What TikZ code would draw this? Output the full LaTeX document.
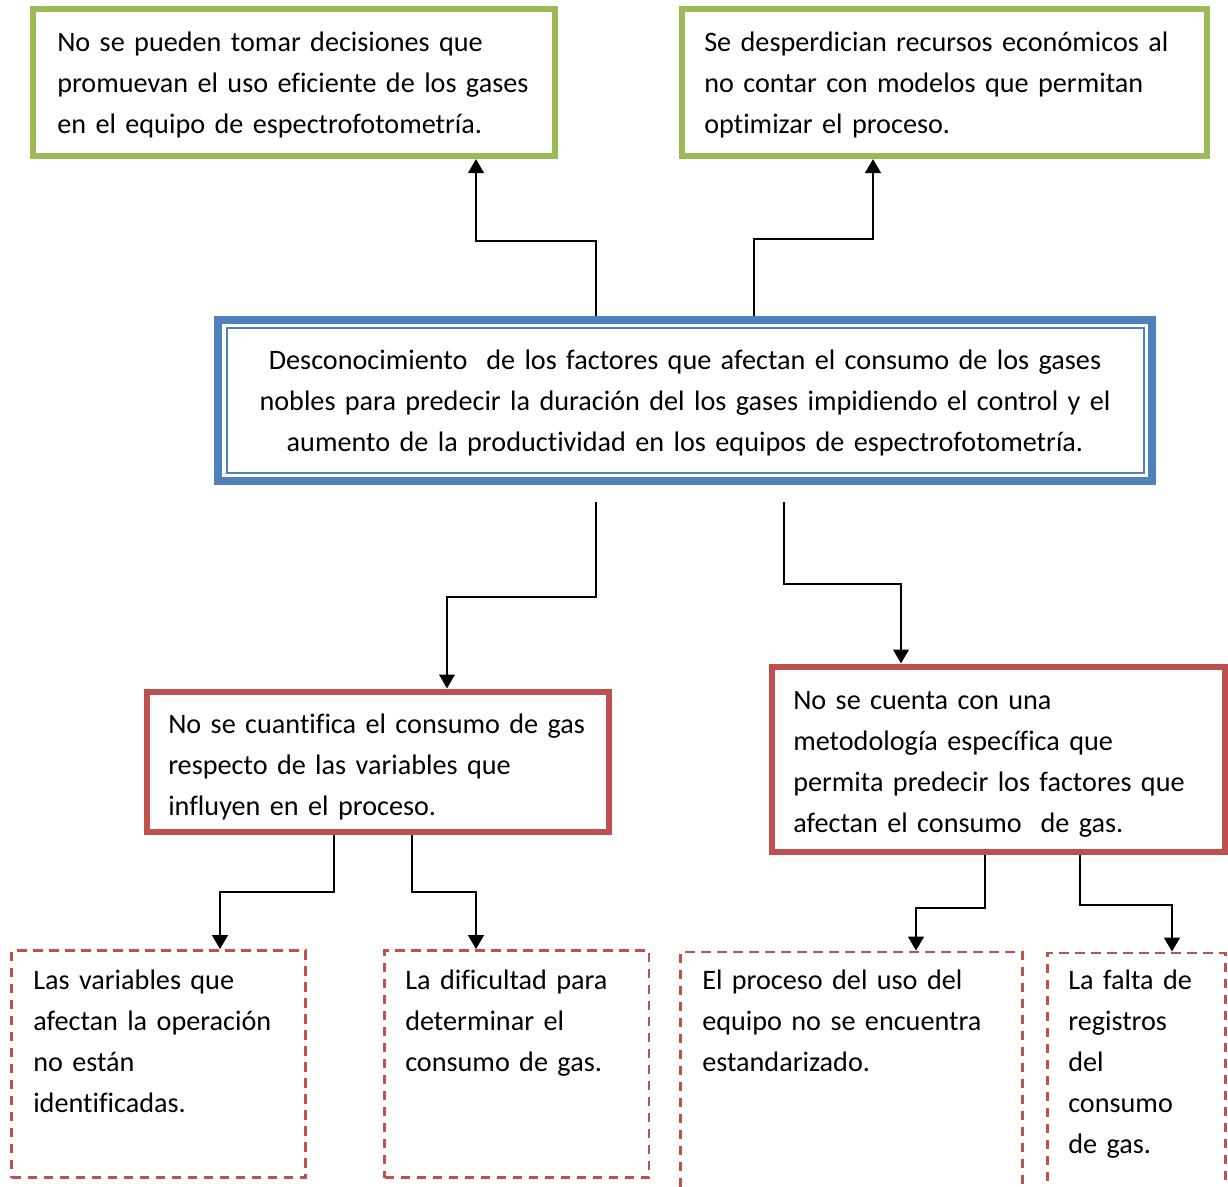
\documentclass[tikz,border=0pt]{standalone}
\usepackage{fontspec}
\setmainfont{Carlito}[Ligatures=NoCommon]
\usetikzlibrary{arrows.meta,calc}
\definecolor{gbox}{HTML}{9BBB59}
\definecolor{bbox}{HTML}{4F81BD}
\definecolor{rbox}{HTML}{C0504D}
\newcommand\dfont{\fontsize{21.15}{30.75}\selectfont}
\newcommand\mkbox[6]{\node[#1, minimum width={(#5-#3)*0.75pt}, minimum height={(#6-#4)*0.75pt}] (#2) at ({(#3+#5)/2},{(#4+#6)/2}) {};}
\begin{document}
\begin{tikzpicture}[x=0.75pt,y=-0.75pt,
 boxbase/.style={rectangle, inner sep=0pt, fill=white},
 greenbox/.style={boxbase, draw=gbox, line width=4.5pt},
 redbox/.style={boxbase, draw=rbox, line width=4.5pt},
 bluebox/.style={boxbase, draw=bbox, line width=6.5pt},
 dashbox/.style={boxbase, draw=rbox, line width=2pt, dash pattern=on 7pt off 5pt},
 txt/.style={anchor=north west, inner sep=0pt, align=left, text width=15cm, font=\dfont},
 ctxt/.style={anchor=north, inner sep=0pt, align=center, text width=30cm, font=\dfont},
 arr/.style={draw=black, line width=2.2pt, -{Triangle[width=11.5pt,length=10.5pt]}},
]
\useasboundingbox (0,0) rectangle (1228,1186);
\clip (0,0) rectangle (1228,1186);
\fill[white] (0,0) rectangle (1228,1186);
% boxes
\mkbox{greenbox}{G1}{33}{8.5}{555}{156}
\mkbox{greenbox}{G2}{682}{8.5}{1207}{156}
\mkbox{bluebox}{C}{218}{320}{1152}{481}
\draw[bbox, line width=1.5pt] (226.5,328) rectangle (1144,473);
\mkbox{redbox}{R1}{147}{691.5}{609}{832}
\mkbox{redbox}{R2}{772}{666.5}{1225}{851.5}
\mkbox{dashbox}{D1}{11.5}{950.5}{305.5}{1177.5}
\mkbox{dashbox}{D2}{384.5}{950.5}{649}{1177.5}
\mkbox{dashbox}{D3}{680.5}{952}{1022.5}{1210}
\mkbox{dashbox}{D4}{1047.5}{953}{1225.5}{1210}
% texts
\node[txt] (G1t) at (57,22.3) {\strut No se pueden tomar decisiones que\\promuevan el uso eficiente de los gases\\en el equipo de espectrofotometría.};
\node[txt] (G2t) at (704,22.3) {\strut Se desperdician recursos económicos al\\no contar con modelos que permitan\\optimizar el proceso.};
\node[ctxt] (Ct) at (685,340.3) {\strut Desconocimiento\ \ de los factores que afectan el consumo de los gases\\nobles para predecir la duración del los gases impidiendo el control y el\\aumento de la productividad en los equipos de espectrofotometría.};
\node[txt] (R1t) at (168,704.3) {\strut No se cuantifica el consumo de gas\\respecto de las variables que\\influyen en el proceso.};
\node[txt] (R2t) at (793,680.3) {\strut No se cuenta con una\\metodología específica que\\permita predecir los factores que\\afectan el consumo\ \ de gas.};
\node[txt] (D1t) at (33,960.3) {\strut Las variables que\\afectan la operación\\no están\\identificadas.};
\node[txt] (D2t) at (405,960.3) {\strut La dificultad para\\determinar el\\consumo de gas.};
\node[txt] (D3t) at (702,960.3) {\strut El proceso del uso del\\equipo no se encuentra\\estandarizado.};
\node[txt] (D4t) at (1068,960.3) {\strut La falta de\\registros\\del\\consumo\\de gas.};
% connectors
\coordinate (a1) at (596,241); \coordinate (a2) at (476,241);
\draw[arr] (C.north -| a1) -- (a1) -- (a2) -- (G1.south -| a2);
\coordinate (b1) at (754,239); \coordinate (b2) at (873,239);
\draw[arr] (C.north -| b1) -- (b1) -- (b2) -- (G2.south -| b2);
\coordinate (c0) at (596,502); \coordinate (c1) at (596,597); \coordinate (c2) at (447,597);
\draw[arr] (c0) -- (c1) -- (c2) -- (R1.north -| c2);
\coordinate (d0) at (784,502); \coordinate (d1) at (784,584); \coordinate (d2) at (901,584);
\draw[arr] (d0) -- (d1) -- (d2) -- (R2.north -| d2);
\coordinate (e1) at (334,892); \coordinate (e2) at (220,892);
\draw[arr] (R1.south -| e1) -- (e1) -- (e2) -- (D1.north -| e2);
\coordinate (f1) at (412,892); \coordinate (f2) at (476,892);
\draw[arr] (R1.south -| f1) -- (f1) -- (f2) -- (D2.north -| f2);
\coordinate (h1) at (985,908); \coordinate (h2) at (916,908);
\draw[arr] (R2.south -| h1) -- (h1) -- (h2) -- (D3.north -| h2);
\coordinate (i1) at (1080,905); \coordinate (i2) at (1172,905);
\draw[arr] (R2.south -| i1) -- (i1) -- (i2) -- (D4.north -| i2);
\end{tikzpicture}
\end{document}
